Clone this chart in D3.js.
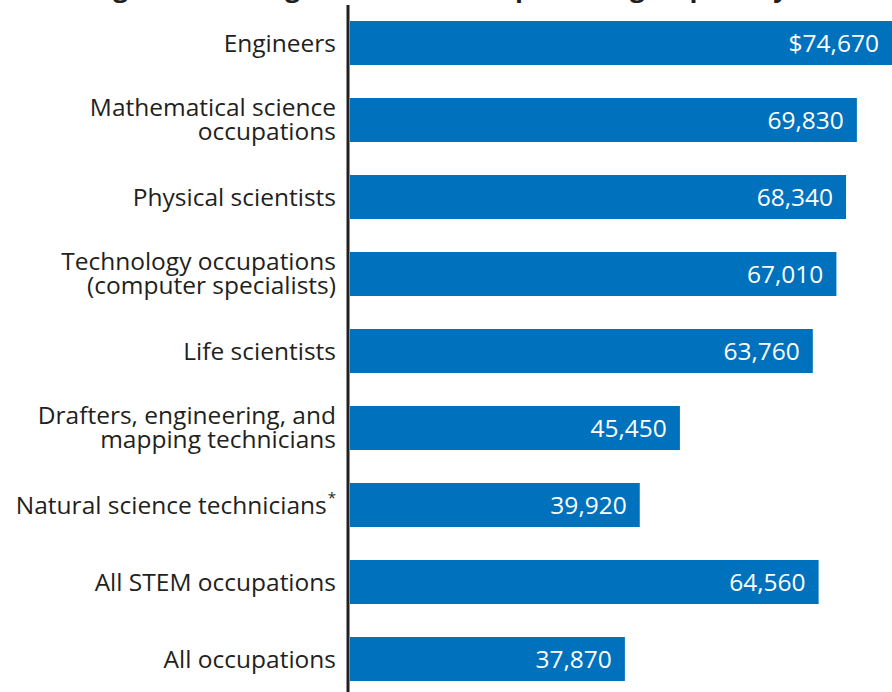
<!DOCTYPE html>
<html>
<head>
<meta charset="utf-8">
<script src="https://cdn.jsdelivr.net/npm/d3@7"></script>
<style>
  html, body { margin: 0; padding: 0; background: #fff; overflow: hidden; }
  svg { display: block; }
</style>
</head>
<body>
<div id="chart"></div>
<script>
  // categories (label lines), values and value labels, top to bottom
  let categories = [
    'Engineers',
    'Mathematical science occupations',
    'Physical scientists',
    'Technology occupations (computer specialists)',
    'Life scientists',
    'Drafters, engineering, and mapping technicians',
    'Natural science technicians',
    'All STEM occupations',
    'All occupations'
  ];
  let labelLines = [
    ['Engineers'],
    ['Mathematical science', 'occupations'],
    ['Physical scientists'],
    ['Technology occupations', '(computer specialists)'],
    ['Life scientists'],
    ['Drafters, engineering, and', 'mapping technicians'],
    ['Natural science technicians'],
    ['All STEM occupations'],
    ['All occupations']
  ];
  let footnoteMarks = ['', '', '', '', '', '', '*', '', ''];
  let wages = [74670, 69830, 68340, 67010, 63760, 45450, 39920, 64560, 37870];
  let wageLabels = ['$74,670', '69,830', '68,340', '67,010', '63,760', '45,450', '39,920', '64,560', '37,870'];
  let title = 'Average annual wages for STEM occupational groups, May 2009';

  let width = 892, height = 692;
  let axisX = 348;

  let svg = d3.select('#chart').append('svg')
    .attr('width', width)
    .attr('height', height);

  let fontFamily = "'Open Sans', 'Noto Sans', sans-serif";

  // title: only its lower edge shows above the plot
  svg.append('text')
    .attr('x', 446)
    .attr('y', -3)
    .attr('text-anchor', 'middle')
    .attr('font-family', fontFamily)
    .attr('font-weight', 'bold')
    .attr('font-size', 26)
    .attr('fill', '#231f20')
    .text(title);

  let x = d3.scaleLinear()
    .domain([0, d3.max(wages)])
    .range([axisX + 2, width]);

  let y = d3.scaleBand()
    .domain(categories)
    .range([4.5, 697.5])
    .paddingInner(0.4286)
    .paddingOuter(0.2143);

  let rows = categories.map((c, i) => ({
    cat: c, lines: labelLines[i], mark: footnoteMarks[i], value: wages[i], label: wageLabels[i]
  }));

  svg.selectAll('.bar')
    .data(rows)
    .enter()
    .append('rect')
    .attr('class', 'bar')
    .attr('fill', '#0071bc')
    .attr('x', x(0))
    .attr('y', d => y(d.cat))
    .attr('width', d => x(d.value) - x(0))
    .attr('height', y.bandwidth());

  svg.selectAll('.value')
    .data(rows)
    .enter()
    .append('text')
    .attr('class', 'value')
    .attr('x', d => x(d.value) - 13)
    .attr('y', d => y(d.cat) + y.bandwidth() / 2 + 9)
    .attr('text-anchor', 'end')
    .attr('font-family', fontFamily)
    .attr('font-size', 24.5)
    .attr('fill', '#fff')
    .text(d => d.label);

  // category labels, right aligned against the axis
  let labels = svg.selectAll('.cat')
    .data(rows)
    .enter()
    .append('text')
    .attr('class', 'cat')
    .attr('text-anchor', 'end')
    .attr('font-family', fontFamily)
    .attr('font-size', 24.5)
    .attr('fill', '#231f20');

  labels.each(function (d) {
    let t = d3.select(this);
    let mid = y(d.cat) + y.bandwidth() / 2;
    let first = d.lines.length === 1 ? mid + 9 : mid - 4;
    d.lines.forEach((line, j) => {
      t.append('tspan')
        .attr('x', 336)
        .attr('y', first + j * 24)
        .text(line);
      if (d.mark) {
        t.append('tspan')
          .attr('dx', 1)
          .attr('dy', -11)
          .attr('font-size', 15)
          .text(d.mark);
      }
    });
  });

  svg.append('line')
    .attr('x1', axisX).attr('x2', axisX)
    .attr('y1', 5).attr('y2', height)
    .attr('stroke', '#231f20')
    .attr('stroke-width', 3);
</script>
</body>
</html>
